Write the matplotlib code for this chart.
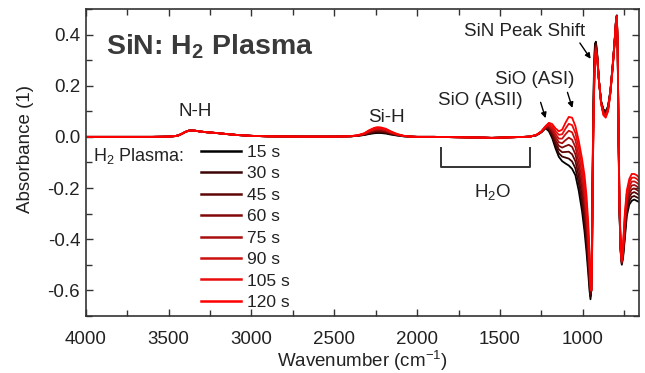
import numpy as np
import matplotlib
matplotlib.use('Agg')
import matplotlib.pyplot as plt
from matplotlib.ticker import MultipleLocator

plt.rcParams['font.family'] = ['Liberation Sans', 'DejaVu Sans']
plt.rcParams['mathtext.fontset'] = 'custom'
plt.rcParams['mathtext.rm'] = 'Liberation Sans'
plt.rcParams['mathtext.it'] = 'Liberation Sans:italic'
plt.rcParams['mathtext.bf'] = 'Liberation Sans:bold'
plt.rcParams['axes.unicode_minus'] = False

TXT = '#222222'

# 等离子体处理时间
times = ['15 s', '30 s', '45 s', '60 s', '75 s', '90 s', '105 s', '120 s']
colors = ['#000000', '#3c0404', '#5e0606', '#820808', '#a80e0e', '#cc1010', '#ea0c0c', '#ff0000']

# 公共段: 4000-2420 (N-H)
wn_a = [4000, 3800, 3600, 3500, 3460, 3440, 3420, 3400, 3380, 3360, 3340, 3310,
        3270, 3210, 3150, 3080, 3000, 2900, 2700, 2500, 2420]
abs_a = [0.000, 0.000, 0.000, 0.001, 0.003, 0.006, 0.012, 0.019, 0.024, 0.025, 0.024, 0.021,
         0.018, 0.015, 0.011, 0.007, 0.004, 0.002, 0.001, 0.001, 0.002]

# Si-H 段, 每条曲线
wn_b = [2400, 2360, 2320, 2290, 2260, 2240, 2220, 2190, 2160, 2120, 2080, 2040]
sih_abs = [
    [0.002, 0.004, 0.007, 0.011, 0.014, 0.015, 0.015, 0.013, 0.009, 0.005, 0.002, 0.001],
    [0.002, 0.004, 0.008, 0.013, 0.017, 0.018, 0.018, 0.016, 0.011, 0.006, 0.002, 0.001],
    [0.002, 0.005, 0.009, 0.015, 0.020, 0.022, 0.021, 0.018, 0.013, 0.007, 0.003, 0.001],
    [0.002, 0.005, 0.010, 0.017, 0.023, 0.025, 0.024, 0.021, 0.015, 0.008, 0.003, 0.001],
    [0.003, 0.005, 0.011, 0.020, 0.026, 0.028, 0.028, 0.024, 0.016, 0.008, 0.003, 0.001],
    [0.003, 0.005, 0.012, 0.022, 0.029, 0.031, 0.031, 0.027, 0.018, 0.009, 0.003, 0.001],
    [0.003, 0.006, 0.013, 0.024, 0.032, 0.035, 0.034, 0.029, 0.020, 0.010, 0.004, 0.001],
    [0.003, 0.006, 0.014, 0.026, 0.035, 0.038, 0.037, 0.032, 0.022, 0.011, 0.004, 0.001],
]

# 公共段: H2O 区域
wn_c = [2000, 1900, 1800, 1700, 1600, 1550, 1500, 1450, 1400, 1350]
abs_c = [0.000, 0.000, -0.001, -0.002, -0.003, -0.004, -0.003, -0.002, -0.001, 0.000]

# SiO / SiN 段, 每条曲线
wn_d = [1320, 1280, 1250, 1225, 1205, 1185, 1165, 1145, 1125, 1105, 1085, 1065, 1045, 1025,
        1005, 990, 978, 968, 960, 954, 949, 944, 939, 933, 927, 921, 913, 903, 890, 876,
        862, 848, 834, 820, 808, 800, 795, 790, 785, 779, 772, 765, 757, 747, 735, 720,
        705, 690, 675, 660]
sio_abs = [
    [0.001, 0.006, 0.018, 0.034, 0.022, -0.005, -0.045, -0.078, -0.095, -0.104, -0.112, -0.125, -0.150, -0.210,
     -0.290, -0.370, -0.450, -0.530, -0.600, -0.635, -0.600, -0.350, 0.000, 0.260, 0.365, 0.372, 0.320, 0.220, 0.140, 0.108,
     0.100, 0.120, 0.180, 0.280, 0.380, 0.455, 0.475, 0.350, 0.000, -0.300, -0.450, -0.500, -0.470, -0.400, -0.310, -0.265,
     -0.250, -0.245, -0.250, -0.255],
    [0.001, 0.006, 0.019, 0.035, 0.027, 0.003, -0.034, -0.064, -0.077, -0.081, -0.085, -0.096, -0.123, -0.182,
     -0.261, -0.339, -0.419, -0.501, -0.579, -0.624, -0.600, -0.364, -0.014, 0.244, 0.354, 0.366, 0.317, 0.220, 0.139, 0.105,
     0.096, 0.117, 0.179, 0.279, 0.379, 0.454, 0.474, 0.351, 0.007, -0.293, -0.446, -0.497, -0.463, -0.386, -0.296, -0.251,
     -0.235, -0.231, -0.236, -0.241],
    [0.001, 0.007, 0.019, 0.036, 0.031, 0.011, -0.023, -0.049, -0.060, -0.059, -0.058, -0.068, -0.095, -0.154,
     -0.231, -0.307, -0.387, -0.473, -0.557, -0.614, -0.600, -0.379, -0.029, 0.229, 0.344, 0.360, 0.314, 0.220, 0.137, 0.101,
     0.093, 0.114, 0.177, 0.277, 0.377, 0.454, 0.474, 0.353, 0.014, -0.286, -0.441, -0.494, -0.456, -0.371, -0.281, -0.236,
     -0.220, -0.216, -0.221, -0.228],
    [0.001, 0.007, 0.020, 0.037, 0.036, 0.019, -0.012, -0.035, -0.042, -0.036, -0.031, -0.039, -0.068, -0.126,
     -0.202, -0.276, -0.356, -0.444, -0.536, -0.603, -0.600, -0.393, -0.043, 0.213, 0.333, 0.354, 0.311, 0.220, 0.136, 0.098,
     0.089, 0.111, 0.176, 0.276, 0.376, 0.453, 0.473, 0.354, 0.021, -0.279, -0.437, -0.491, -0.449, -0.357, -0.267, -0.222,
     -0.205, -0.202, -0.207, -0.214],
    [0.001, 0.007, 0.020, 0.039, 0.041, 0.026, 0.000, -0.021, -0.025, -0.013, -0.003, -0.011, -0.040, -0.099,
     -0.173, -0.244, -0.324, -0.416, -0.514, -0.592, -0.600, -0.407, -0.057, 0.197, 0.322, 0.348, 0.309, 0.220, 0.134, 0.095,
     0.086, 0.109, 0.174, 0.274, 0.374, 0.452, 0.472, 0.356, 0.029, -0.271, -0.433, -0.489, -0.441, -0.343, -0.253, -0.208,
     -0.190, -0.188, -0.193, -0.201],
    [0.001, 0.007, 0.021, 0.040, 0.046, 0.034, 0.011, -0.007, -0.007, 0.010, 0.024, 0.018, -0.013, -0.071,
     -0.144, -0.213, -0.293, -0.387, -0.493, -0.581, -0.600, -0.421, -0.071, 0.181, 0.311, 0.342, 0.306, 0.220, 0.133, 0.092,
     0.082, 0.106, 0.173, 0.273, 0.373, 0.451, 0.471, 0.357, 0.036, -0.264, -0.429, -0.486, -0.434, -0.329, -0.239, -0.194,
     -0.175, -0.174, -0.179, -0.187],
    [0.001, 0.008, 0.021, 0.041, 0.050, 0.042, 0.022, 0.008, 0.010, 0.032, 0.051, 0.046, 0.015, -0.043,
     -0.114, -0.181, -0.261, -0.359, -0.471, -0.571, -0.600, -0.436, -0.086, 0.166, 0.301, 0.336, 0.303, 0.220, 0.131, 0.088,
     0.079, 0.103, 0.171, 0.271, 0.371, 0.451, 0.471, 0.359, 0.043, -0.257, -0.424, -0.483, -0.427, -0.314, -0.224, -0.179,
     -0.160, -0.159, -0.164, -0.174],
    [0.001, 0.008, 0.022, 0.042, 0.055, 0.050, 0.033, 0.022, 0.028, 0.055, 0.078, 0.075, 0.042, -0.015,
     -0.085, -0.150, -0.230, -0.330, -0.450, -0.560, -0.600, -0.450, -0.100, 0.150, 0.290, 0.330, 0.300, 0.220, 0.130, 0.085,
     0.075, 0.100, 0.170, 0.270, 0.370, 0.450, 0.470, 0.360, 0.050, -0.250, -0.420, -0.480, -0.420, -0.300, -0.210, -0.165,
     -0.145, -0.145, -0.150, -0.160],
]

fig = plt.figure(figsize=(6.45, 3.73), dpi=100)
ax = fig.add_axes([0.133, 0.153, 0.858, 0.823])

wn_all = np.array(wn_a + wn_b + wn_c + wn_d)
lines = []
for i in range(len(times)):
    y = np.array(abs_a + sih_abs[i] + abs_c + sio_abs[i])
    ln, = ax.plot(wn_all, y, color=colors[i], lw=1.3, label=times[i])
    lines.append(ln)

ax.set_xlim(4000, 660)
ax.set_ylim(-0.70, 0.50)
ax.xaxis.set_major_locator(MultipleLocator(500))
ax.xaxis.set_minor_locator(MultipleLocator(250))
ax.yaxis.set_major_locator(MultipleLocator(0.2))
ax.yaxis.set_minor_locator(MultipleLocator(0.1))
ax.yaxis.set_major_formatter(plt.FuncFormatter(lambda v, p: f'{v:.1f}'))
ax.tick_params(which='both', direction='in', top=True, right=True, color='#333333', width=1.0)
ax.tick_params(which='major', length=5, labelsize=13.5, labelcolor=TXT)
ax.tick_params(which='minor', length=4)
ax.tick_params(axis='x', pad=10.5)
ax.tick_params(axis='y', pad=4)
for s in ax.spines.values():
    s.set_linewidth(1.2)
    s.set_color('#333333')

ax.set_xlabel('Wavenumber (cm$^{-1}$)', fontsize=13.5, color=TXT)
ax.set_ylabel('Absorbance (1)', fontsize=13.5, color=TXT)
ax.xaxis.set_label_coords(0.5, -0.108)
ax.yaxis.set_label_coords(-0.094, 0.544)

ax.text(0.037, 0.850, r'SiN: H$_\mathbf{2}$ Plasma', transform=ax.transAxes,
        fontsize=20.5, fontweight='bold', color='#3a3a3a', va='baseline', ha='left')

# 峰标注
ax.text(3340, 0.098, 'N-H', fontsize=13.5, color=TXT, ha='center', va='center')
ax.text(2184, 0.075, 'Si-H', fontsize=13.5, color=TXT, ha='center', va='center')
ax.text(1618, 0.141, 'SiO (ASII)', fontsize=13.5, color=TXT, ha='center', va='center')
ax.text(1293, 0.224, 'SiO (ASI)', fontsize=13.5, color=TXT, ha='center', va='center')
ax.text(1353, 0.410, 'SiN Peak Shift', fontsize=13.5, color=TXT, ha='center', va='center')
ax.text(1545, -0.216, 'H$_2$O', fontsize=13.5, color=TXT, ha='center', va='center')

arr = dict(arrowstyle='-|>', color='k', lw=1.0, mutation_scale=8, shrinkA=0, shrinkB=0)
ax.annotate('', xy=(1225, 0.073), xytext=(1255, 0.135), arrowprops=arr)
ax.annotate('', xy=(1063, 0.113), xytext=(1093, 0.174), arrowprops=arr)
ax.annotate('', xy=(953, 0.305), xytext=(1018, 0.367), arrowprops=arr)

# H2O 括号
ax.plot([1855, 1855, 1322, 1322], [-0.045, -0.118, -0.118, -0.045], color='#333333', lw=1.4)

ax.text(0.0127, 0.521, 'H$_2$ Plasma:', transform=ax.transAxes, fontsize=13,
        color=TXT, ha='left', va='center')
leg = ax.legend(handles=lines, loc='upper left', bbox_to_anchor=(0.209, 0.557), frameon=False,
                fontsize=12.5, handlelength=2.3, handletextpad=0.3, labelspacing=0.36,
                borderpad=0, borderaxespad=0, labelcolor=TXT)
for h in leg.get_lines():
    h.set_linewidth(1.8)

fig.savefig('out.png', dpi=100)
